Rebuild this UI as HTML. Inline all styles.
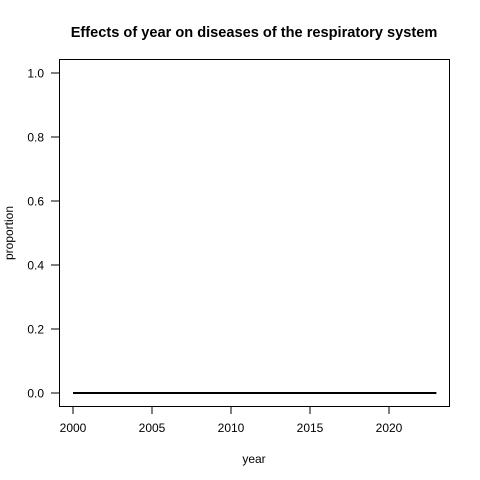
<!DOCTYPE html>
<html><head><meta charset="utf-8"><style>body{margin:0;background:#fff}svg{display:block;font-family:"Liberation Sans",Arial,sans-serif}</style></head>
<body>
<svg id="c" width="480" height="480">
<text x="254" y="37" text-anchor="middle" font-size="14.6" font-weight="bold">Effects of year on diseases of the respiratory system</text>
<rect x="59.5" y="59.5" width="390" height="347" fill="none" stroke="#000"/>
<g id="ax"></g>
<text x="254" y="463" text-anchor="middle" font-size="12">year</text>
<text transform="translate(13,233) rotate(-90)" text-anchor="middle" font-size="12">proportion</text>
</svg>
<script>
const years=[2000,2023];
const values=[0,0];
const xTicks=[2000,2005,2010,2015,2020];
const yTicks=[0,0.2,0.4,0.6,0.8,1.0];
const xs=v=>73+(v-2000)*15.8;
const ys=v=>393-v*320;
const ns="http://www.w3.org/2000/svg";
const g=document.getElementById('ax');
function mk(t,a){const e=document.createElementNS(ns,t);for(const k in a)e.setAttribute(k,a[k]);g.appendChild(e);return e;}
xTicks.forEach(t=>{
 const l=mk('line',{x1:xs(t),x2:xs(t),y1:406.5,y2:414,stroke:'#000'});
 
 
 const tx=mk('text',{x:xs(t),y:432,'text-anchor':'middle','font-size':12});
 tx.textContent=t;
 
 
});
yTicks.forEach(t=>{
 const l=mk('line',{x1:51,x2:59.5,y1:ys(t),y2:ys(t),stroke:'#000'});
 
 
 const tx=mk('text',{x:44,y:ys(t)+4.5,'text-anchor':'end','font-size':12});
 tx.textContent=t.toFixed(1);
 
 
});
const p=mk('polyline',{points:years.map((y,i)=>xs(y)+','+ys(values[i])).join(' '),fill:'none',stroke:'#000','stroke-width':2});


</script>
</body></html>
